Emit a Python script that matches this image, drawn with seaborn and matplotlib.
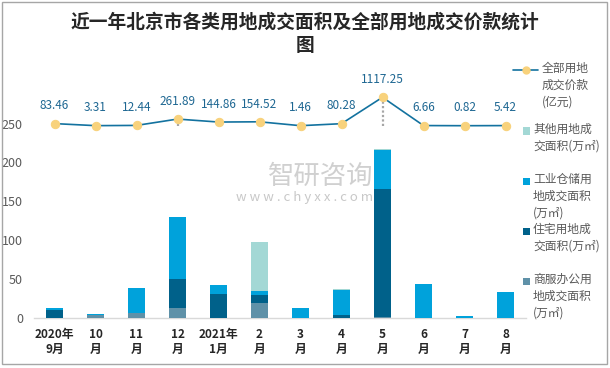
import numpy as np
import matplotlib
matplotlib.use("Agg")
import matplotlib.pyplot as plt
from matplotlib.lines import Line2D
from matplotlib.patches import Rectangle
import seaborn as sns

# ---------------- data ----------------
months = ['2020年\n9月', '10\n月', '11\n月', '12\n月', '2021年\n1月', '2\n月',
          '3\n月', '4\n月', '5\n月', '6\n月', '7\n月', '8\n月']
commercial = [0, 4.0, 6.0, 12.5, 0, 19.0, 0, 0, 0.8, 0, 0, 0]          # 商服办公
residential = [10.0, 0, 0, 37.3, 30.5, 10.3, 0, 3.4, 165.1, 0, 0, 0]  # 住宅
industrial = [2.5, 0.7, 32.2, 80.1, 11.5, 5.6, 12.5, 32.2, 49.7, 43.3, 2.5, 33.0]  # 工业仓储
other = [0, 0, 0, 0, 0, 62.5, 0, 1.2, 1.7, 0, 0, 0]                   # 其他
price = [83.46, 3.31, 12.44, 261.89, 144.86, 154.52, 1.46, 80.28, 1117.25, 6.66, 0.82, 5.42]
price_labels = ['83.46', '3.31', '12.44', '261.89', '144.86', '154.52', '1.46',
                '80.28', '1117.25', '6.66', '0.82', '5.42']
yticks = [0, 50, 100, 150, 200, 250]

title = '近一年北京市各类用地成交面积及全部用地成交价款统计\n图'
legend_labels = ['全部用地\n成交价款\n(亿元)',
                 '其他用地成\n交面积(万㎡)',
                 '工业仓储用\n地成交面积\n(万㎡)',
                 '住宅用地成\n交面积(万㎡)',
                 '商服办公用\n地成交面积\n(万㎡)']

# ---------------- style ----------------
sns.set_style('white')
plt.rcParams['font.family'] = ['Noto Sans CJK SC', 'DejaVu Sans']

C_OTHER = '#a3d8d5'
C_IND = '#00a2db'
C_RES = '#00618a'
C_COM = '#5f91a8'
C_LINE = '#13729f'
C_MARK = '#f8d27c'

W, H = 610, 368
fig = plt.figure(figsize=(W / 100, H / 100), dpi=100)
fig.patch.set_facecolor('white')

ax_l, ax_r, ax_b, ax_t = 34, 526, 318, 84.7
ax = fig.add_axes([ax_l / W, 1 - ax_b / H, (ax_r - ax_l) / W, (ax_b - ax_t) / H])

# stacked bars (drawn as cumulative overlays)
s1 = np.array(commercial)
s2 = s1 + np.array(residential)
s3 = s2 + np.array(industrial)
s4 = s3 + np.array(other)
for vals, col in [(s4, C_OTHER), (s3, C_IND), (s2, C_RES), (s1, C_COM)]:
    sns.barplot(x=months, y=vals, order=months, color=col, saturation=1,
                width=0.41, ax=ax, zorder=3, linewidth=0, edgecolor='none')

ax.set_xlim(-0.5, len(months) - 0.5)
ax.set_ylim(0, 300)
ax.set_yticks(yticks)
ax.set_xlabel('')
ax.set_ylabel('')
for s in ['top', 'left', 'right']:
    ax.spines[s].set_visible(False)
ax.spines['bottom'].set_color('#d9d9d9')
ax.spines['bottom'].set_linewidth(1)
ax.tick_params(axis='y', length=0, pad=8, labelsize=9, labelcolor='#595959')
ax.tick_params(axis='x', which='major', length=0, pad=7, labelsize=8.5, labelcolor='#262626')
for t in ax.get_xticklabels():
    t.set_fontweight('bold')
    t.set_linespacing(1.25)
ax.set_xticks(np.arange(-0.5, len(months), 1.0), minor=True)
ax.tick_params(axis='x', which='minor', length=4.5, color='#d9d9d9', width=1)
ax.patch.set_alpha(0)

# line on secondary axis
ax2 = ax.twinx()
xs = np.arange(len(months))
ax2.vlines(xs, 0, price, colors='#a6a6a6', linestyles=(0, (1, 1)), linewidth=1.6, zorder=2)
sns.lineplot(x=xs, y=price, ax=ax2, color=C_LINE, linewidth=1.2, marker='o',
             markersize=6, markerfacecolor=C_MARK, markeredgecolor=C_MARK,
             sort=False, zorder=4)
ax2.set_ylim(-7554, 1612)
ax2.set_xlim(-0.5, len(months) - 0.5)
ax2.set_yticks([])
ax2.set_ylabel('')
for s in ax2.spines.values():
    s.set_visible(False)
for x, v, lab in zip(xs, price, price_labels):
    ax2.annotate(lab, (x, v), xytext=(0, 12.8), textcoords='offset points',
                 ha='center', va='center', fontsize=8.5, color='#1e6792')

# watermark
fig.text(321 / W, 1 - 176 / H, '智研咨询', fontsize=19, color='#d0d0d0',
         ha='center', va='center', zorder=0)
fig.text(305 / W, 1 - 197 / H, 'w w w . c h y x x . c o m', fontsize=9.5,
         color='#c8c8c8', ha='center', va='center', zorder=0)

# title
fig.text(305 / W, 1 - 34 / H, title, fontsize=13.5, fontweight='bold', color='#262626',
         ha='center', va='center', linespacing=1.3)

# legend (manual)
fs = 8.5
fig.add_artist(Line2D([513 / W, 538 / W], [1 - 70 / H, 1 - 70 / H], color=C_LINE, lw=1.2,
                      transform=fig.transFigure))
fig.add_artist(Line2D([525.5 / W], [1 - 70 / H], marker='o', markersize=5,
                      markerfacecolor=C_MARK, markeredgecolor=C_MARK,
                      transform=fig.transFigure))
fig.text(542 / W, 1 - 62 / H, legend_labels[0], fontsize=fs, color='#595959',
         ha='left', va='top', linespacing=1.36)
sq_entries = [(131, C_OTHER), (181, C_IND), (231, C_RES), (281, C_COM)]
for (yc, col), lab in zip(sq_entries, legend_labels[1:]):
    fig.add_artist(Rectangle(((523) / W, 1 - (yc + 3.5) / H), 7 / W, 7 / H,
                             facecolor=col, edgecolor='none', transform=fig.transFigure))
    fig.text(533 / W, 1 - (yc - 8) / H, lab, fontsize=fs, color='#595959',
             ha='left', va='top', linespacing=1.36)

# outer border
fig.add_artist(Rectangle((2 / W, 4 / H), 604.5 / W, 362 / H, facecolor='none',
                         edgecolor='#a6a6a6', lw=1, transform=fig.transFigure))

fig.savefig('out.png', dpi=100)
